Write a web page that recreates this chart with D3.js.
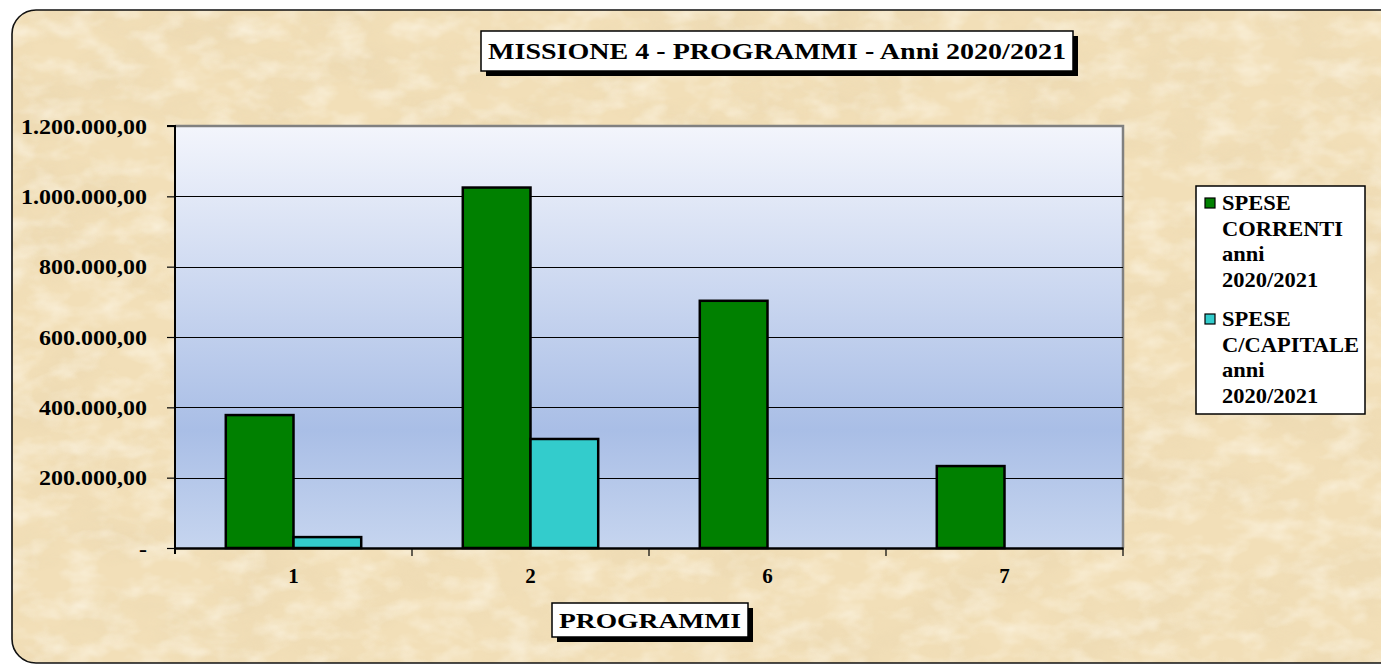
<!DOCTYPE html>
<html>
<head>
<meta charset="utf-8">
<script src="https://cdn.jsdelivr.net/npm/d3@7"></script>
<style>
  html, body { margin: 0; padding: 0; background: #ffffff; }
  svg { display: block; }
  text { font-family: "Liberation Serif", "Times New Roman", serif; font-weight: bold; fill: #000; }
</style>
</head>
<body>
<script>
// ---- data ----
const categories = ["1", "2", "6", "7"];
const seriesNames = ["SPESE CORRENTI anni 2020/2021", "SPESE C/CAPITALE anni 2020/2021"];
const speseCorrenti = [378000, 1025000, 703000, 233000];
const speseCapitale = [31000, 310000, 0, 0];
const yTicks = [0, 200000, 400000, 600000, 800000, 1000000, 1200000];
const titleText = "MISSIONE 4 - PROGRAMMI - Anni 2020/2021";
const xTitleText = "PROGRAMMI";
const legendLines = [["SPESE", "CORRENTI", "anni", "2020/2021"], ["SPESE", "C/CAPITALE", "anni", "2020/2021"]];
const colors = ["#008000", "#33CCCC"];

const W = 1381, H = 664;
const plot = { left: 175, right: 1123, top: 126, bottom: 548 };

const svg = d3.select("body").append("svg").attr("width", W).attr("height", H);
const defs = svg.append("defs");

// widen serif text slightly to mimic the original wide serif face
function widen(sel, k) {
  sel.each(function () {
    const len = this.getComputedTextLength();
    d3.select(this).attr("textLength", len * k).attr("lengthAdjust", "spacingAndGlyphs");
  });
}

// parchment texture
const f = defs.append("filter").attr("id", "parch").attr("x", 0).attr("y", 0).attr("width", 1).attr("height", 1);
f.append("feTurbulence").attr("type", "fractalNoise").attr("baseFrequency", "0.010 0.018").attr("numOctaves", 5).attr("seed", 7).attr("result", "n");
f.append("feColorMatrix").attr("in", "n").attr("type", "matrix")
  .attr("values", "0 0 0 0 0.80  0 0 0 0 0.66  0 0 0 0 0.42  1.9 0 0 0 -0.78").attr("result", "c");
f.append("feComposite").attr("in", "c").attr("in2", "SourceGraphic").attr("operator", "in");

const f2 = defs.append("filter").attr("id", "parch2").attr("x", 0).attr("y", 0).attr("width", 1).attr("height", 1);
f2.append("feTurbulence").attr("type", "fractalNoise").attr("baseFrequency", "0.03 0.05").attr("numOctaves", 3).attr("seed", 2).attr("result", "n");
f2.append("feColorMatrix").attr("in", "n").attr("type", "matrix")
  .attr("values", "0 0 0 0 1  0 0 0 0 0.97  0 0 0 0 0.88  1.8 0 0 0 -0.75").attr("result", "c");
f2.append("feComposite").attr("in", "c").attr("in2", "SourceGraphic").attr("operator", "in");

const frame = { x: 12, y: 10, w: 1420, h: 653, r: 24 };
defs.append("clipPath").attr("id", "frameClip")
  .append("rect").attr("x", frame.x).attr("y", frame.y).attr("width", frame.w).attr("height", frame.h).attr("rx", frame.r);

const grad = defs.append("linearGradient").attr("id", "plotGrad").attr("x1", 0).attr("y1", 0).attr("x2", 0).attr("y2", 1);
grad.append("stop").attr("offset", "0%").attr("stop-color", "#F3F5FC");
grad.append("stop").attr("offset", "72%").attr("stop-color", "#A9BEE6");
grad.append("stop").attr("offset", "100%").attr("stop-color", "#C6D5EF");

// frame background
const bg = svg.append("g").attr("clip-path", "url(#frameClip)");
bg.append("rect").attr("x", 0).attr("y", 0).attr("width", W).attr("height", H).attr("fill", "#F2DFB8");
bg.append("rect").attr("x", 0).attr("y", 0).attr("width", W).attr("height", H).attr("fill", "#fff").attr("filter", "url(#parch)").attr("opacity", 0.5);
bg.append("rect").attr("x", 0).attr("y", 0).attr("width", W).attr("height", H).attr("fill", "#fff").attr("filter", "url(#parch2)").attr("opacity", 0.6);
svg.append("rect").attr("x", frame.x).attr("y", frame.y).attr("width", frame.w).attr("height", frame.h).attr("rx", frame.r)
  .attr("fill", "none").attr("stroke", "#111").attr("stroke-width", 1.6);

// scales
const x = d3.scaleBand().domain(categories).range([plot.left, plot.right]).paddingInner(0).paddingOuter(0);
const xSub = d3.scaleBand().domain([0, 1]).range([0, x.bandwidth()]).paddingInner(0).paddingOuter(0.75);
const y = d3.scaleLinear().domain([0, 1200000]).range([plot.bottom, plot.top]);

// plot area
svg.append("rect").attr("x", plot.left).attr("y", plot.top).attr("width", plot.right - plot.left).attr("height", plot.bottom - plot.top)
  .attr("fill", "url(#plotGrad)");
svg.append("path").attr("d", `M${plot.left},${plot.top} H${plot.right} V${plot.bottom}`)
  .attr("fill", "none").attr("stroke", "#808080").attr("stroke-width", 2.5);

// gridlines
svg.append("g").selectAll("line").data(yTicks.filter(d => d > 0 && d < 1200000)).join("line")
  .attr("x1", plot.left).attr("x2", plot.right)
  .attr("y1", d => Math.round(y(d)) + 0.5).attr("y2", d => Math.round(y(d)) + 0.5)
  .attr("stroke", "#000").attr("stroke-width", 1.2);

// bars
const data = categories.map((c, i) => ({ c, vals: [speseCorrenti[i], speseCapitale[i]] }));
const groups = svg.append("g").selectAll("g").data(data).join("g")
  .attr("transform", d => `translate(${x(d.c)},0)`);
groups.selectAll("rect").data(d => d.vals.map((v, k) => ({ v, k })).filter(e => e.v > 0)).join("rect")
  .attr("x", e => xSub(e.k)).attr("width", xSub.bandwidth())
  .attr("y", e => y(e.v)).attr("height", e => y(0) - y(e.v))
  .attr("fill", e => colors[e.k]).attr("stroke", "#000").attr("stroke-width", 2.5);

// y axis
const itFmt = d3.formatLocale({ decimal: ",", thousands: ".", grouping: [3], currency: ["", ""] }).format(",.2f");
const yAxis = d3.axisLeft(y).tickValues(yTicks).tickSize(8).tickPadding(20)
  .tickFormat(d => d === 0 ? "-" : itFmt(d));
const yg = svg.append("g").attr("transform", `translate(${plot.left},0)`).call(yAxis);
yg.select(".domain").attr("stroke", "#000").attr("stroke-width", 2).attr("d", `M-8,${plot.top}H0V${plot.bottom + 6}`);
yg.selectAll(".tick line").attr("stroke", "#000").attr("stroke-width", 1.2);
yg.selectAll(".tick text").attr("font-family", "Liberation Serif, serif").attr("font-weight", "bold").attr("font-size", 22).attr("fill", "#000");
widen(yg.selectAll(".tick text"), 1.09);

// x axis
const xAxis = d3.axisBottom(x).tickSize(0).tickPadding(20);
const xg = svg.append("g").attr("transform", `translate(0,${plot.bottom})`).call(xAxis);
xg.select(".domain").attr("stroke", "#000").attr("stroke-width", 2.5);
xg.selectAll(".tick text").attr("font-family", "Liberation Serif, serif").attr("font-weight", "bold").attr("font-size", 21).attr("fill", "#000");
xg.append("g").selectAll("line").data(categories.slice(1).concat(["end"])).join("line")
  .attr("x1", d => d === "end" ? plot.right : x(d)).attr("x2", d => d === "end" ? plot.right : x(d))
  .attr("y1", 0).attr("y2", 8).attr("stroke", "#000").attr("stroke-width", 1.2);

// boxed titles with shadow
function boxedText(cx, cy, w, h, txt, fs, tl) {
  const g = svg.append("g");
  g.append("rect").attr("x", cx - w / 2 + 5).attr("y", cy - h / 2 + 5).attr("width", w).attr("height", h).attr("fill", "#000");
  g.append("rect").attr("x", cx - w / 2).attr("y", cy - h / 2).attr("width", w).attr("height", h)
    .attr("fill", "#fff").attr("stroke", "#000").attr("stroke-width", 1.5);
  const t = g.append("text").attr("x", cx).attr("y", cy).attr("dy", "0.35em").attr("text-anchor", "middle")
    .attr("font-size", fs).text(txt);
  if (tl) t.attr("textLength", tl).attr("lengthAdjust", "spacingAndGlyphs");
}
boxedText(777, 51, 592, 40, titleText, 23, 578);
boxedText(650, 620, 196, 34, xTitleText, 22, 182);

// legend
const lg = svg.append("g");
lg.append("rect").attr("x", 1196).attr("y", 186).attr("width", 169).attr("height", 228)
  .attr("fill", "#fff").attr("stroke", "#000").attr("stroke-width", 1.5);
legendLines.forEach((lines, k) => {
  const y0 = 210 + k * 116;
  lg.append("rect").attr("x", 1205).attr("y", y0 - 12).attr("width", 10).attr("height", 10)
    .attr("fill", colors[k]).attr("stroke", "#000").attr("stroke-width", 1.2);
  lines.forEach((ln, j) => {
    const t = lg.append("text").attr("x", 1222).attr("y", y0 + j * 25.5).attr("font-size", 21).text(ln);
    widen(t, 1.07);
  });
});
</script>
</body>
</html>
